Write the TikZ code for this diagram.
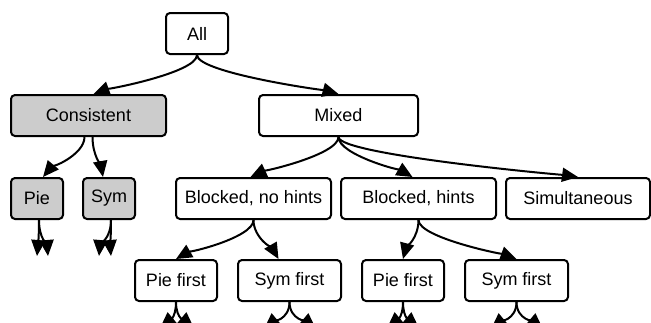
\documentclass[tikz,border=0pt]{standalone}
\usepackage{fontspec}
\setmainfont{Liberation Sans}
\usetikzlibrary{arrows.meta,positioning}

\tikzset{
  box/.style={draw, line width=2pt, rounded corners=4pt, rectangle,
    minimum height=41pt, inner sep=4pt, font=\fontsize{18}{21}\selectfont},
  greybox/.style={box, fill=gray!40},
  tree edge/.style={line width=2pt, -{Triangle[length=16pt,width=14pt]},
    out=-90, out distance=18pt, in distance=10pt}
}

\begin{document}
\begin{tikzpicture}[x=1pt,y=1pt]
  \useasboundingbox (0,0) rectangle (651,-322);

  % levels of the tree
  \node [box, minimum width=62pt] at (197,-33.5) (all) {All};
  \node [greybox, minimum width=155pt] at (88.5,-115.5) (consistent) {Consistent};
  \node [box, minimum width=159pt] at (338.5,-115.5) (mixed) {Mixed};

  \node [greybox, minimum width=52pt] at (37,-198.5) (pie) {Pie};
  \node [greybox, minimum width=52pt] at (109,-198.5) (sym) {Sym};
  \node [box, minimum width=155pt] at (253.5,-198.5) (blocked_nohints) {Blocked, no hints};
  \node [box, minimum width=155pt] at (418.5,-198.5) (blocked_hints) {Blocked, hints};
  \node [box, minimum width=144pt] at (578,-198.5) (simultaneous) {Simultaneous};

  \node [box, minimum width=82pt] at (176,-280.5) (pie_first_0) {Pie first};
  \node [box, minimum width=103pt] at (289.5,-280.5) (sym_first_0) {Sym first};
  \node [box, minimum width=82pt] at (403,-280.5) (pie_first_1) {Pie first};
  \node [box, minimum width=103pt] at (516.5,-280.5) (sym_first_1) {Sym first};

  % loose ends below the last boxes
  \coordinate (pie_end_0) at (37,-256);
  \coordinate (pie_end_1) at (48,-256);
  \coordinate (sym_end_0) at (99,-256);
  \coordinate (sym_end_1) at (111,-256);
  \coordinate (pf0_end_0) at (160,-328);
  \coordinate (pf0_end_1) at (194,-328);
  \coordinate (sf0_end_0) at (264,-329);
  \coordinate (sf0_end_1) at (316,-329);
  \coordinate (pf1_end_0) at (387,-328);
  \coordinate (pf1_end_1) at (419,-328);
  \coordinate (sf1_end_0) at (491,-329);
  \coordinate (sf1_end_1) at (543,-329);

  \path [tree edge]
    (all.south) edge [in=20] ([xshift=5pt]consistent.north)
    (all.south) edge [in=165] (mixed.north)
    ([xshift=-4pt]consistent.south) edge [in=50] ([xshift=6pt]pie.north)
    ([xshift=4pt]consistent.south) edge [in=100] ([xshift=-6pt]sym.north)
    (mixed.south) edge [in=25] ([xshift=-3pt]blocked_nohints.north)
    (mixed.south) edge [in=150] ([xshift=-6pt]blocked_hints.north)
    (mixed.south) edge [in=172] (simultaneous.north)
    (blocked_nohints.south) edge [in=30] (pie_first_0.north)
    (blocked_nohints.south) edge [in=120] ([xshift=-11pt]sym_first_0.north)
    (blocked_hints.south) edge [in=75] (pie_first_1.north)
    (blocked_hints.south) edge [in=160] (sym_first_1.north);

  \foreach \n in {pie,sym}
  {
    \path [tree edge] ([xshift=2pt]\n.south) edge [in=85] (\n_end_0)
      ([xshift=2pt]\n.south) edge [in=95] (\n_end_1);
  }
  \foreach \n/\m in {pf0/pie_first_0,sf0/sym_first_0,pf1/pie_first_1,sf1/sym_first_1}
  {
    \path [tree edge] (\m.south) edge [in=40] (\n_end_0)
      (\m.south) edge [in=140] (\n_end_1);
  }

\end{tikzpicture}
\end{document}
